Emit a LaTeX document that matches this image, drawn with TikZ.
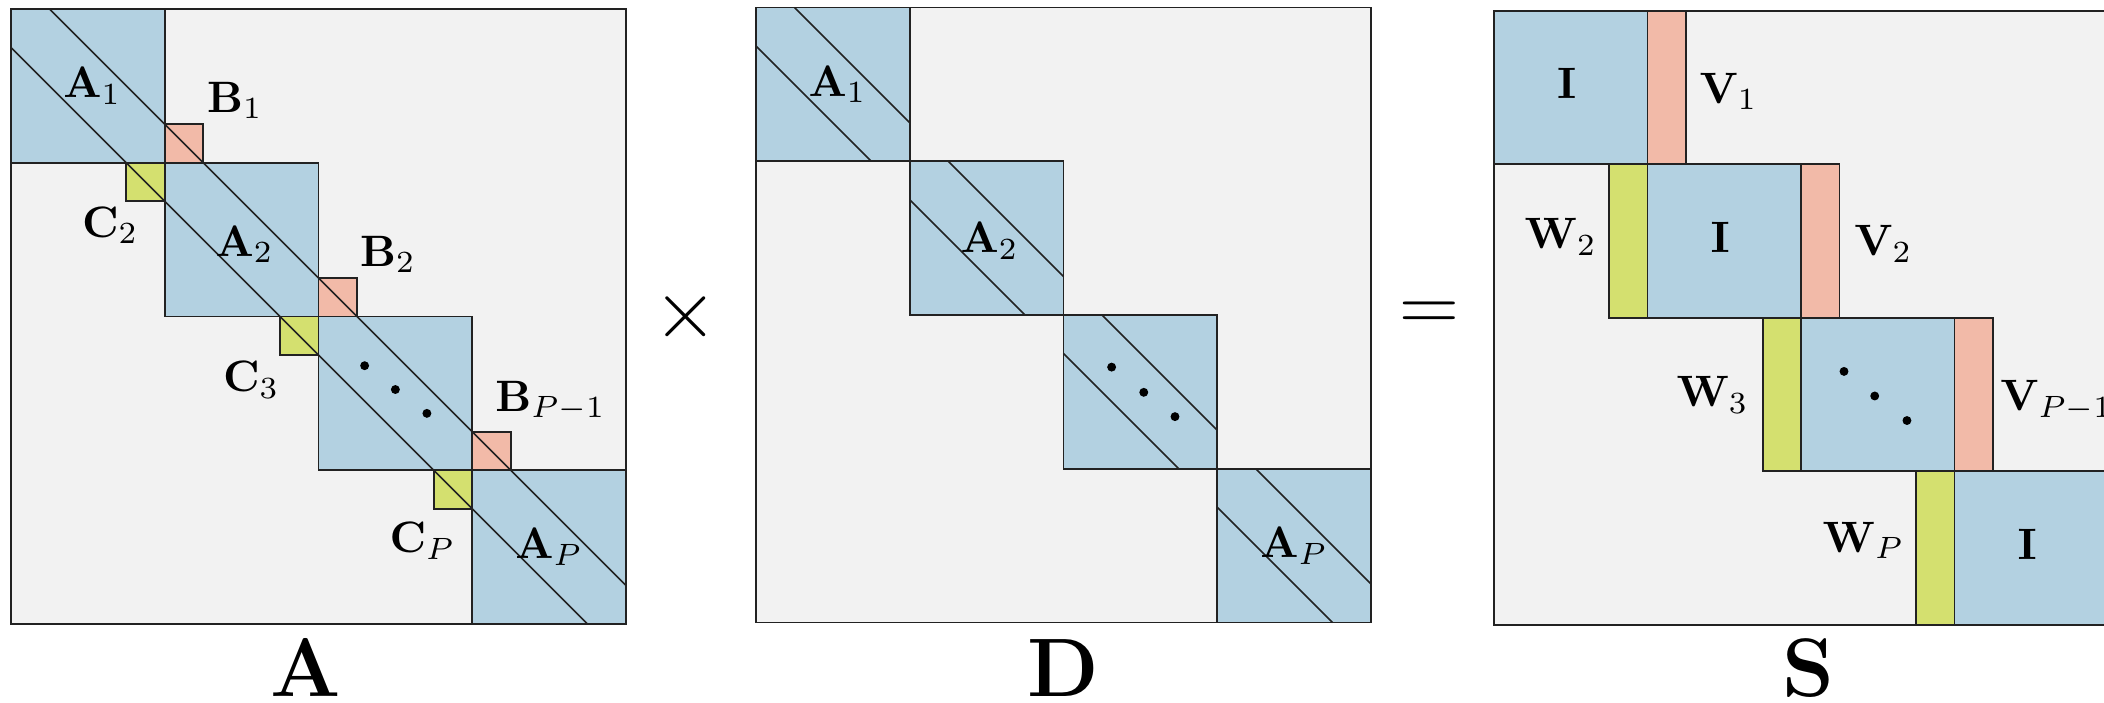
\documentclass[tikz,border=0pt]{standalone}
\definecolor{bgc}{HTML}{F2F2F2}
\definecolor{blkc}{HTML}{B3D1E1}
\definecolor{pinkc}{HTML}{F2BAA8}
\definecolor{greenc}{HTML}{D4E06F}
\definecolor{linec}{HTML}{222222}
\tikzset{
  mat/.style={draw=linec, line width=0.45pt, fill=bgc},
  blk/.style={draw=linec, line width=0.45pt, fill=blkc},
  pinkbox/.style={draw=linec, line width=0.45pt, fill=pinkc},
  greenbox/.style={draw=linec, line width=0.45pt, fill=greenc},
  diag/.style={draw=linec, line width=0.4pt},
  lbl/.style={inner sep=0pt, font=\normalsize, scale=1.1},
  biglbl/.style={inner sep=0pt, font=\huge},
  dotc/.style={fill=black},
}
\begin{document}
\begin{tikzpicture}[x=0.25pt, y=-0.25pt]
\useasboundingbox (0,0) rectangle (2104,703);
\clip (0,0) rectangle (2104,703);

% ---------------- Matrix A ----------------
\begin{scope}[shift={(11,9)}, x=38.4375pt, y=-38.4375pt]
  \path[mat] (0,0) rectangle (4,4);
  \foreach \k in {0,1,2,3} {\path[blk] (\k,\k) rectangle (\k+1,\k+1);}
  \foreach \k in {1,2,3} {
    \path[pinkbox] (\k,\k-0.25) rectangle (\k+0.25,\k);
    \path[greenbox] (\k-0.25,\k) rectangle (\k,\k+0.25);
  }
  \draw[diag] (0.25,0) -- (4,3.75);
  \draw[diag] (0,0.25) -- (3.75,4);
  \node[lbl] (aA1) at (0.53,0.5) {$\mathbf{A}_1$};
  \node[lbl] (aA2) at (1.52,1.53) {$\mathbf{A}_2$};
  \node[lbl] (aAP) at (3.5,3.5) {$\mathbf{A}_P$};
  \node[lbl, anchor=base] (aB1) at (1.457,0.670) {$\mathbf{B}_1$};
  \node[lbl, anchor=base] (aB2) at (2.452,1.672) {$\mathbf{B}_2$};
  \node[lbl, anchor=base] (aBP) at (3.510,2.615) {$\mathbf{B}_{P-1}$};
  \node[lbl, anchor=base] (aC2) at (0.646,1.483) {$\mathbf{C}_2$};
  \node[lbl, anchor=base] (aC3) at (1.563,2.489) {$\mathbf{C}_3$};
  \node[lbl, anchor=base] (aCP) at (2.676,3.537) {$\mathbf{C}_P$};
  \fill[dotc] (2.30,2.32) circle (0.029);
  \fill[dotc] (2.50,2.475) circle (0.029);
  \fill[dotc] (2.705,2.63) circle (0.029);
\end{scope}

% ---------------- Matrix D ----------------
\begin{scope}[shift={(756,7.5)}, x=38.4375pt, y=-38.4375pt]
  \path[mat] (0,0) rectangle (4,4);
  \foreach \k in {0,1,2,3} {
    \path[blk] (\k,\k) rectangle (\k+1,\k+1);
    \draw[diag] (\k+0.25,\k) -- (\k+1,\k+0.75);
    \draw[diag] (\k,\k+0.25) -- (\k+0.75,\k+1);
  }
  \node[lbl] (dA1) at (0.53,0.5) {$\mathbf{A}_1$};
  \node[lbl] (dA2) at (1.52,1.52) {$\mathbf{A}_2$};
  \node[lbl] (dAP) at (3.5,3.5) {$\mathbf{A}_P$};
  \fill[dotc] (2.313,2.339) circle (0.029);
  \fill[dotc] (2.522,2.503) circle (0.029);
  \fill[dotc] (2.725,2.661) circle (0.029);
\end{scope}

% ---------------- Matrix S ----------------
\begin{scope}[shift={(1494,10.7)}, x=38.375pt, y=-38.375pt]
  \path[mat] (0,0) rectangle (4,4);
  \foreach \k in {0,1,2,3} {\path[blk] (\k,\k) rectangle (\k+1,\k+1);}
  \foreach \k in {0,1,2} {\path[pinkbox] (\k+1,\k) rectangle (\k+1.25,\k+1);}
  \foreach \k in {1,2,3} {\path[greenbox] (\k-0.25,\k) rectangle (\k,\k+1);}
  \node[lbl] (sI1) at (0.474,0.474) {$\mathbf{I}$};
  \node[lbl] (sI2) at (1.474,1.474) {$\mathbf{I}$};
  \node[lbl] (sI4) at (3.474,3.474) {$\mathbf{I}$};
  \node[lbl, anchor=base west] (sV1) at (1.333,0.603) {$\mathbf{V}_1$};
  \node[lbl, anchor=base west] (sV2) at (2.342,1.598) {$\mathbf{V}_2$};
  \node[lbl, anchor=base west] (sVP) at (3.293,2.607) {$\mathbf{V}_{P-1}$};
  \node[lbl, anchor=base east] (sW2) at (0.675,1.552) {$\mathbf{W}_2$};
  \node[lbl, anchor=base east] (sW3) at (1.664,2.578) {$\mathbf{W}_3$};
  \node[lbl, anchor=base east] (sWP) at (2.679,3.528) {$\mathbf{W}_P$};
  \fill[dotc] (2.28,2.35) circle (0.029);
  \fill[dotc] (2.48,2.51) circle (0.029);
  \fill[dotc] (2.69,2.67) circle (0.029);
\end{scope}

% ---------------- operators and names ----------------
\node[biglbl] (times) at (686,317) {$\times$};
\node[biglbl] (equals) at (1429,317) {$=$};
\node[biglbl, anchor=base] (nameA) at (306,696) {$\mathbf{A}$};
\node[biglbl, anchor=base] (nameD) at (1063,696) {$\mathbf{D}$};
\node[biglbl, anchor=base] (nameS) at (1808,696) {$\mathbf{S}$};
\end{tikzpicture}
\end{document}
